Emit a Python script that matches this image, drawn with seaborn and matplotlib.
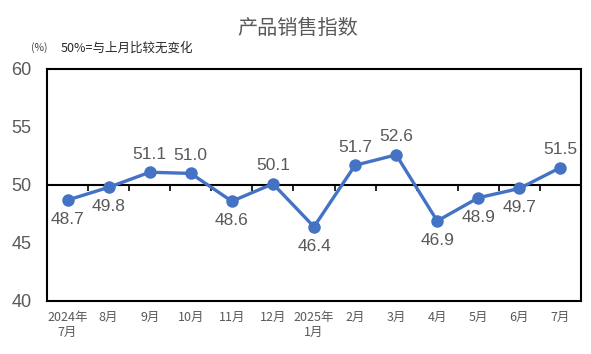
import matplotlib
matplotlib.use("Agg")
import matplotlib.pyplot as plt
import seaborn as sns
import pandas as pd

categories = ["2024年\n7月", "8月", "9月", "10月", "11月", "12月", "2025年\n1月",
              "2月", "3月", "4月", "5月", "6月", "7月"]
values = [48.7, 49.8, 51.1, 51.0, 48.6, 50.1, 46.4, 51.7, 52.6, 46.9, 48.9, 49.7, 51.5]
label_above = [False, False, True, True, False, True, False, True, True, False, False, False, True]
y_ticks = [40, 45, 50, 55, 60]

sns.set_theme(style="white")
plt.rcParams['font.family'] = ['Noto Sans CJK SC', 'DejaVu Sans']

df = pd.DataFrame({"x": range(len(categories)), "v": values})

fig = plt.figure(figsize=(5.91, 3.54), dpi=100)
ax = fig.add_axes([47/591, 1-301/354, (581-47)/591, (301-69)/354])

color = "#4472C4"
sns.lineplot(data=df, x="x", y="v", ax=ax, color=color, linewidth=2.4,
             marker="o", markersize=9, markeredgewidth=0, markeredgecolor=color)

ax.set_xlim(-0.5, len(categories) - 0.5)
ax.set_ylim(40, 60)
ax.set_yticks(y_ticks)
ax.set_yticklabels([str(t) for t in y_ticks], fontsize=13, color="#595959",
                   family=['Liberation Sans', 'DejaVu Sans'])
ax.tick_params(axis='y', direction='in', length=4, width=1.2, color='black', pad=11)
ax.set_xticks(range(len(categories)))
ax.set_xticklabels(categories, fontsize=9, color="#595959", linespacing=1.25)
ax.tick_params(axis='x', length=0, pad=7)
ax.set_xlabel("")
ax.set_ylabel("")

for sp in ax.spines.values():
    sp.set_visible(True)
    sp.set_color("black")
    sp.set_linewidth(1.5)

ax.axhline(50, color="black", linewidth=1.5, zorder=1)
sec = ax.secondary_xaxis(0.5)
sec.set_xticks([i + 0.5 for i in range(len(categories) - 1)])
sec.set_xticklabels([])
sec.tick_params(direction='in', length=4, width=1.2, color='black')
sec.spines['bottom'].set_visible(False)

for i, (v, up) in enumerate(zip(values, label_above)):
    ax.annotate(f"{v:.1f}", (i, v), xytext=(0, 13 if up else -14),
                textcoords="offset points", ha="center",
                va="center", fontsize=12.5, color="#595959",
                family=['Liberation Sans', 'DejaVu Sans'])

fig.text(298/591, 1-28/354, "产品销售指数", ha="center", va="center",
         fontsize=14.5, color="#595959")
fig.text(31/591, 1-48/354, "(%)", ha="left", va="center",
         fontsize=7.5, color="#404040")
fig.text(61/591, 1-48/354, "50%=与上月比较无变化", ha="left", va="center",
         fontsize=9, color="#262626")

fig.savefig("out.png", dpi=100)
